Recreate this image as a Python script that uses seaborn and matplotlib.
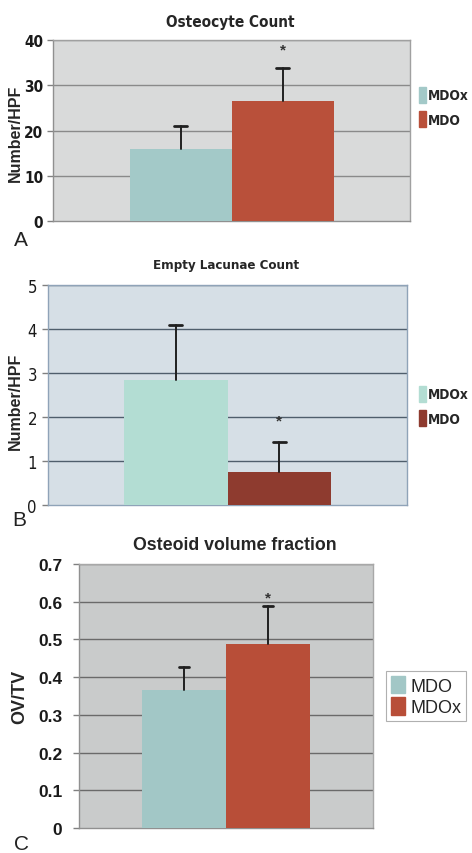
import numpy as np
import pandas as pd
import matplotlib
matplotlib.use("Agg")
import matplotlib.pyplot as plt
import seaborn as sns
from matplotlib.patches import Patch
from matplotlib import font_manager as fm

# ---------------- data ----------------
a_groups = ["MDOx", "MDO"]
a_means = [16.0, 26.5]
a_sd = [5.0, 7.4]

b_groups = ["MDOx", "MDO"]
b_means = [2.84, 0.76]
b_sd = [1.26, 0.68]

c_groups = ["MDO", "MDOx"]
c_means = [0.365, 0.487]
c_sd = [0.062, 0.101]

a_ticks = [0, 10, 20, 30, 40]
b_ticks = [0, 1, 2, 3, 4, 5]
c_ticks = [0, 0.1, 0.2, 0.3, 0.4, 0.5, 0.6, 0.7]
c_ticklabels = ["0", "0.1", "0.2", "0.3", "0.4", "0.5", "0.6", "0.7"]

sns.set_theme(style="white")
plt.rcParams['font.family'] = ['Liberation Sans', 'DejaVu Sans']

# look for a condensed face if one is installed
narrow_found = False
for f in fm.fontManager.ttflist:
    n = f.name.lower()
    if 'narrow' in n or 'condensed' in n or (f.stretch in ('condensed', 'semi-condensed')):
        narrow_found = True
        break


def narrow_prop(weight, size):
    if narrow_found:
        for fam in ['Liberation Sans Narrow', 'DejaVu Sans Condensed']:
            try:
                fm.findfont(fm.FontProperties(family=fam), fallback_to_default=False)
                return fm.FontProperties(family=fam, weight=weight, size=size)
            except Exception:
                pass
        for f in fm.fontManager.ttflist:
            if f.stretch in ('condensed', 'semi-condensed'):
                return fm.FontProperties(family=f.name, weight=weight, size=size, stretch=f.stretch)
    return fm.FontProperties(family='Liberation Sans', weight=weight, size=size * 0.85)


W, H = 472, 854
fig = plt.figure(figsize=(W / 100, H / 100), dpi=100)


def px_axes(l, r, t, b):
    return fig.add_axes([l / W, 1 - b / H, (r - l) / W, (b - t) / H])


def panel(ax, groups, means, sds, colors, bg, gridc, framec, xlim, ylim, ticks,
          ticklabels, tickprop, pad, star_idx, star_y):
    df = pd.DataFrame({"x": ["g"] * len(groups), "group": groups, "val": means})
    sns.barplot(data=df, x="x", y="val", hue="group", hue_order=groups,
                palette=colors, width=0.8, dodge=True, errorbar=None,
                saturation=1, ax=ax, legend=False, linewidth=0, zorder=3)
    ax.set_facecolor(bg)
    ax.set_xlim(*xlim)
    ax.set_ylim(*ylim)
    ax.set_yticks(ticks)
    ax.set_yticklabels(ticklabels, fontproperties=tickprop)
    ax.set_xticks([])
    ax.set_xlabel("")
    ax.set_ylabel("")
    for t in ticks[1:]:
        ax.axhline(t, color=gridc, lw=1.0, zorder=1)
    for s in ax.spines.values():
        s.set_color(framec)
        s.set_linewidth(1.0)
    ax.spines['left'].set_color("#909090")
    ax.spines['bottom'].set_color("#909090")
    ax.tick_params(axis='y', left=True, length=4, width=1, color="#808080", pad=pad,
                   labelcolor="#1a1a1a")
    xs = [p.get_x() + p.get_width() / 2 for p in ax.patches]
    for x, m, s in zip(xs, means, sds):
        ax.plot([x, x], [m, m + s], color="#202020", lw=1.4, zorder=4)
        ax.plot([x - 0.025, x + 0.025], [m + s, m + s], color="#202020", lw=2.0, zorder=4)
    ax.text(xs[star_idx], star_y, "*", ha="center", va="center", fontsize=11,
            fontweight="bold", color="#333333", zorder=5)
    return xs


# ---------------- Panel A ----------------
axA = px_axes(53, 410, 41, 222)
panel(axA, a_groups, a_means, a_sd, ["#A3C9C8", "#B9503A"], "#D9DADA", "#8A8A8A",
      "#A0A0A0", (-0.7, 0.7), (0, 40), a_ticks, [str(t) for t in a_ticks],
      narrow_prop("bold", 11), 3, 1, 38.0)
fig.text(230 / W, 1 - 22 / H, "Osteocyte Count", ha="center", va="center",
         fontproperties=narrow_prop("bold", 11))
fig.text(15 / W, 1 - 133 / H, "Number/HPF", ha="center", va="center", rotation=90,
         family=['Liberation Sans'], weight="bold", fontsize=11.5)
fig.text(14 / W, 1 - 240 / H, "A", ha="left", va="center", fontsize=15, color="#222222")
fig.legend(handles=[Patch(color="#A3C9C8"), Patch(color="#B9503A")],
           labels=a_groups, loc="center left", bbox_to_anchor=(419 / W, 1 - 108 / H),
           frameon=False, handlelength=0.55, handleheight=1.45, handletextpad=0.1,
           labelspacing=0.6, borderaxespad=0, borderpad=0.0,
           prop=narrow_prop("bold", 9.8))

# ---------------- Panel B ----------------
axB = px_axes(48, 407, 286, 506)
panel(axB, b_groups, b_means, b_sd, ["#B3DDD3", "#8E3B2F"], "#D6DFE6", "#4F5E6C",
      "#8FA3B8", (-0.694, 0.694), (0, 5), b_ticks, [str(t) for t in b_ticks],
      narrow_prop("normal", 12), 4, 1, 1.93)
axB.spines['left'].set_color("#8FA3B8")
axB.spines['bottom'].set_color("#8FA3B8")
fig.text(226 / W, 1 - 265 / H, "Empty Lacunae Count", ha="center", va="center",
         fontproperties=narrow_prop("bold", 9.5))
fig.text(15 / W, 1 - 401 / H, "Number/HPF", ha="center", va="center", rotation=90,
         family=['Liberation Sans'], weight="bold", fontsize=11.5)
fig.text(12 / W, 1 - 520 / H, "B", ha="left", va="center", fontsize=15, color="#222222")
fig.legend(handles=[Patch(color="#B3DDD3"), Patch(color="#8E3B2F")],
           labels=b_groups, loc="center left", bbox_to_anchor=(419 / W, 1 - 407 / H),
           frameon=False, handlelength=0.55, handleheight=1.45, handletextpad=0.1,
           labelspacing=0.6, borderaxespad=0, borderpad=0.0,
           prop=narrow_prop("bold", 9.8))

# ---------------- Panel C ----------------
axC = px_axes(79, 373, 565, 829)
panel(axC, c_groups, c_means, c_sd, ["#A2C7C6", "#B84E38"], "#C9CBCB", "#6A6A6A",
      "#A8A8A8", (-0.704, 0.704), (0, 0.7), c_ticks, c_ticklabels,
      fm.FontProperties(family='Liberation Sans', weight='bold', size=12.5), 8, 1, 0.612)
fig.text(235 / W, 1 - 546 / H, "Osteoid volume fraction", ha="center", va="center",
         family=['Liberation Sans'], weight="bold", fontsize=12.8)
fig.text(20 / W, 1 - 697 / H, "OV/TV", ha="center", va="center", rotation=90,
         family=['Liberation Sans'], weight="bold", fontsize=13)
fig.text(14 / W, 1 - 845 / H, "C", ha="left", va="center", fontsize=15, color="#222222")
legC = fig.legend(handles=[Patch(color="#A2C7C6"), Patch(color="#B84E38")],
                  labels=c_groups, loc="center left", bbox_to_anchor=(386 / W, 1 - 697 / H),
                  frameon=True, fancybox=False, edgecolor="#B0B0B0", framealpha=1,
                  borderpad=0.25, handlelength=0.8, handleheight=1.1, handletextpad=0.3,
                  labelspacing=0.15, borderaxespad=0,
                  prop={'family': ['Liberation Sans'], 'size': 13})
legC.get_frame().set_linewidth(0.8)

fig.savefig("out.png", dpi=100, facecolor="white")
